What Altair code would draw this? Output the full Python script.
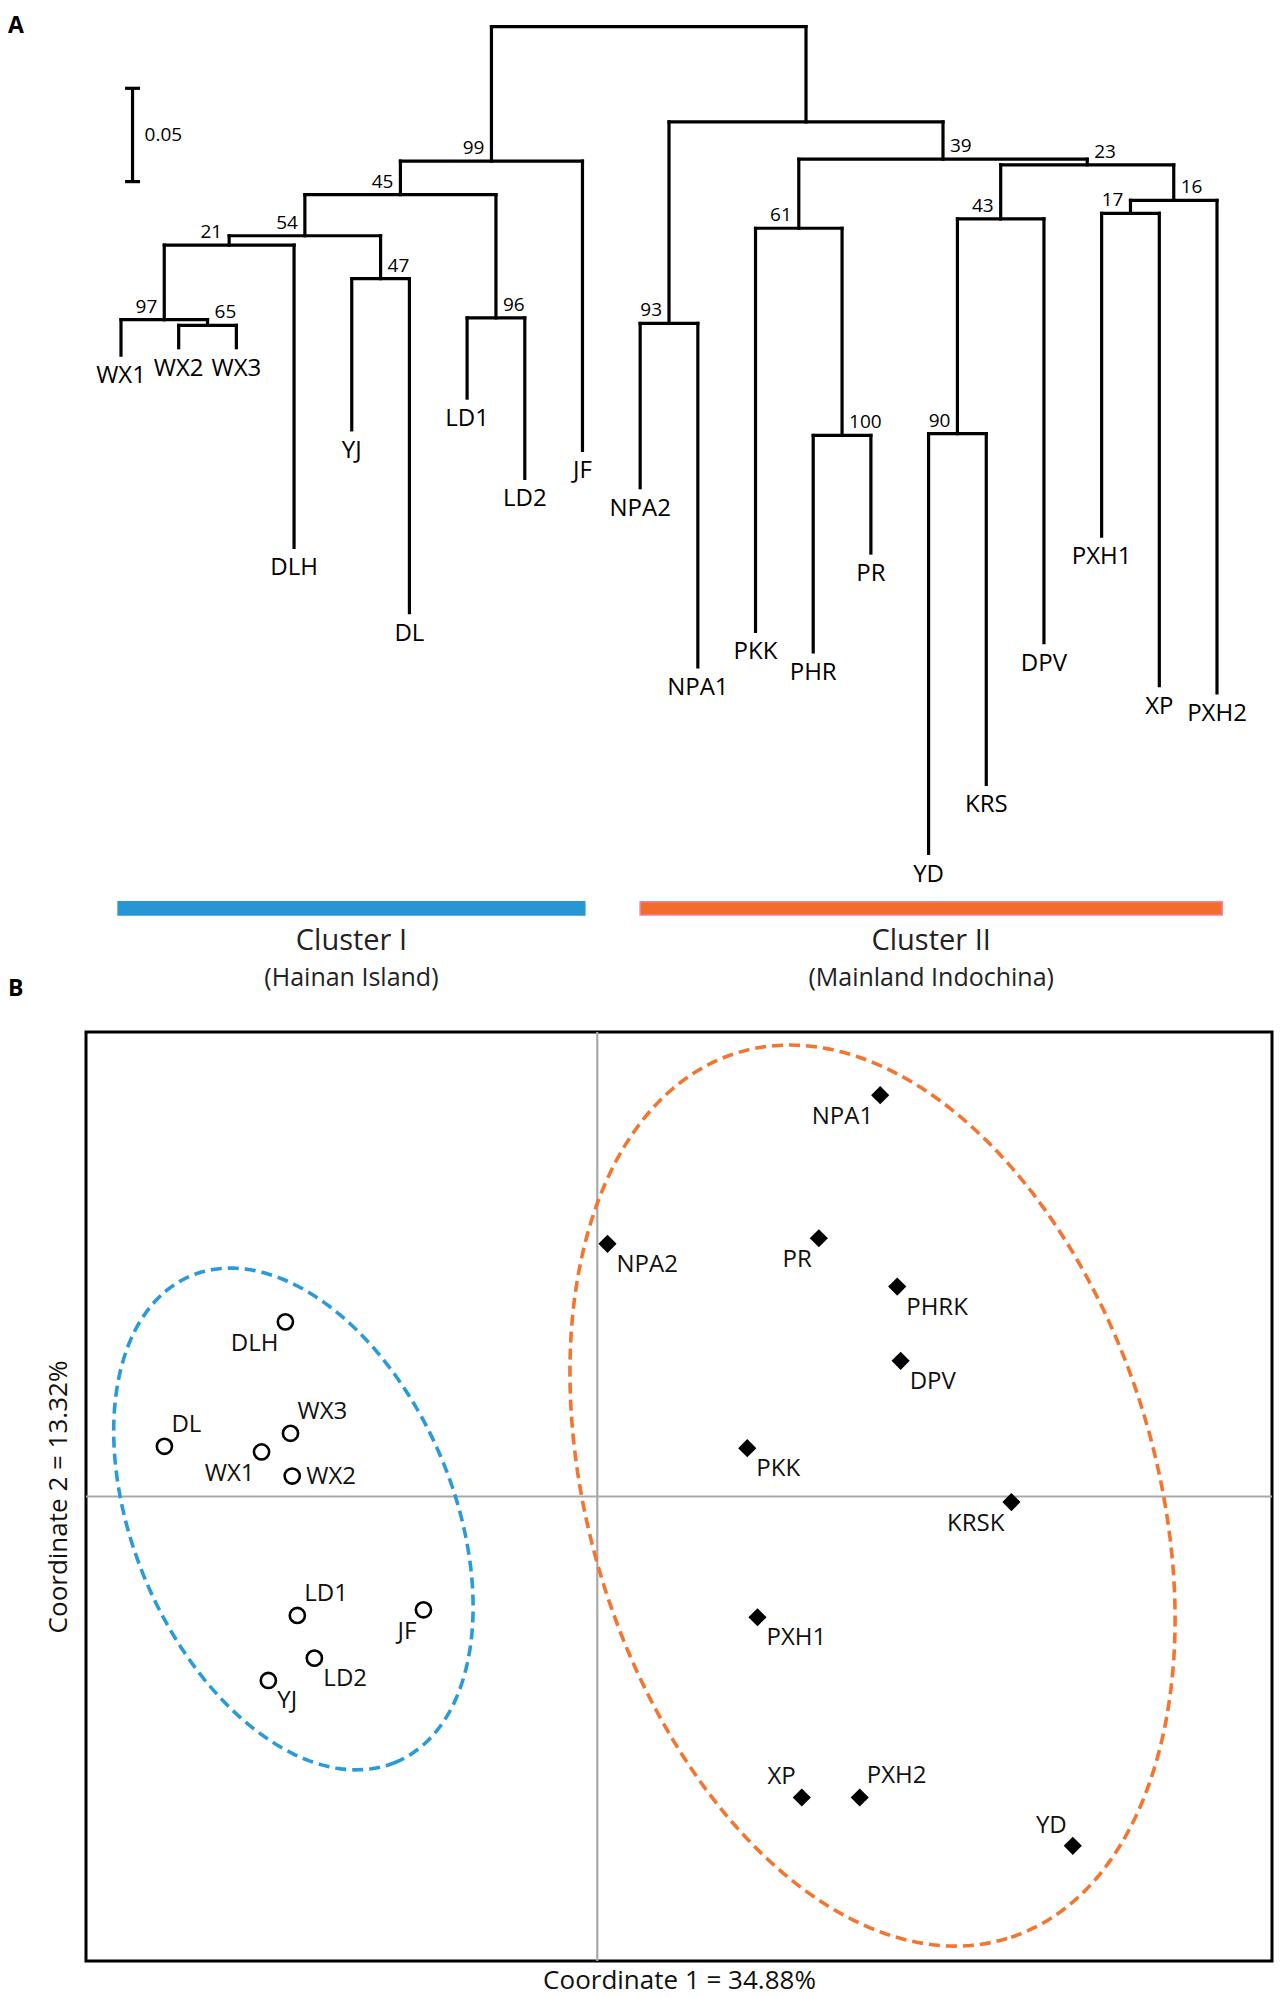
import numpy as np
import pandas as pd
import altair as alt

FONT = "Open Sans"

# ======================= Panel A : dendrogram =======================
leaf_names = ["WX1", "WX2", "WX3", "DLH", "YJ", "DL", "LD1", "LD2", "JF",
              "NPA2", "NPA1", "PKK", "PHR", "PR", "YD", "KRS", "DPV", "PXH1", "XP", "PXH2"]
# depth below the root (genetic distance units)
leaf_depth = [0.176, 0.172, 0.172, 0.279, 0.216, 0.314, 0.199, 0.242, 0.227,
              0.247, 0.343, 0.324, 0.335, 0.282, 0.443, 0.406, 0.330, 0.273, 0.353, 0.357]

node_names = ["n65", "n97", "n21", "n47", "n54", "n96", "n45", "n99",
              "n93", "n100", "n61", "n90", "n43", "n17", "n16", "n23", "n39", "nII", "root"]
node_left = ["WX2", "WX1", "n97", "YJ", "n21", "LD1", "n54", "n45",
             "NPA2", "PHR", "PKK", "YD", "n90", "PXH1", "n17", "n43", "n61", "n93", "n99"]
node_right = ["WX3", "n65", "DLH", "DL", "n47", "LD2", "n96", "JF",
              "NPA1", "PR", "n100", "KRS", "DPV", "XP", "PXH2", "n16", "n23", "n39", "nII"]
node_depth = [0.160, 0.157, 0.117, 0.135, 0.112, 0.156, 0.090, 0.072,
              0.159, 0.219, 0.108, 0.218, 0.103, 0.100, 0.093, 0.074, 0.071, 0.051, 0.0]
node_support = ["65", "97", "21", "47", "54", "96", "45", "99",
                "93", "100", "61", "90", "43", "17", "16", "23", "39", "", ""]
support_side = ["right", "left", "left", "right", "left", "right", "left", "left",
                "left", "right", "left", "left", "left", "left", "right", "right", "right", "", ""]

cluster_names = ["Cluster I", "Cluster II"]
cluster_regions = ["(Hainan Island)", "(Mainland Indochina)"]
cluster_first = [-0.05, 9.0]      # in leaf-order units
cluster_last = [8.04, 19.09]
cluster_fill = ["#2796d3", "#f26d2b"]
cluster_edge = ["#2796d3", "#f27fa4"]

scale_bar_value = 0.05

# ======================= Panel B : PCoA =======================
hainan_names = ["DLH", "DL", "WX1", "WX3", "WX2", "LD1", "JF", "LD2", "YJ"]
hainan_c1 = [-0.183, -0.254, -0.197, -0.180, -0.179, -0.176, -0.102, -0.166, -0.193]
hainan_c2 = [0.094, 0.027, 0.024, 0.034, 0.011, -0.064, -0.061, -0.087, -0.099]

indo_names = ["NPA2", "NPA1", "PR", "PHRK", "DPV", "PKK", "KRSK", "PXH1", "XP", "PXH2", "YD"]
indo_c1 = [0.006, 0.166, 0.130, 0.176, 0.178, 0.088, 0.243, 0.094, 0.120, 0.154, 0.279]
indo_c2 = [0.136, 0.216, 0.139, 0.113, 0.073, 0.026, -0.003, -0.065, -0.162, -0.162, -0.188]

# label placement relative to the marker
label_place = {"DLH": "LL", "DL": "UR", "WX1": "LL", "WX3": "UR", "WX2": "R",
               "LD1": "UR", "JF": "LL", "LD2": "LR", "YJ": "LR",
               "NPA2": "LR", "NPA1": "LL", "PR": "LL", "PHRK": "LR", "DPV": "LR",
               "PKK": "LR", "KRSK": "LL", "PXH1": "LR", "XP": "UL", "PXH2": "UR", "YD": "UL"}

# group ellipses: centre and two conjugate semi-axis vectors (data units)
ell_center = {"I": (-0.1783, -0.0121), "II": (0.1615, 0.0005)}
ell_u = {"I": (0.0603, -0.1308), "II": (0.0790, -0.2384)}
ell_v = {"I": (-0.0865, -0.0335), "II": (-0.1590, -0.0443)}
ell_color = {"I": "#2a9ad9", "II": "#f37530"}

# ======================= derived tables =======================
pos = {n: float(i) for i, n in enumerate(leaf_names)}
dep = dict(zip(leaf_names, leaf_depth))
for n, l, r, d in zip(node_names, node_left, node_right, node_depth):
    pos[n] = (pos[l] + pos[r]) / 2.0
    dep[n] = d

seg_rows = []
for n, l, r in zip(node_names, node_left, node_right):
    seg_rows.append(dict(x=pos[l], x2=pos[r], y=dep[n], y2=dep[n]))
    for c in (l, r):
        seg_rows.append(dict(x=pos[c], x2=pos[c], y=dep[n], y2=dep[c]))
seg_df = pd.DataFrame(seg_rows)

leaf_df = pd.DataFrame({"name": leaf_names, "x": [pos[n] for n in leaf_names], "d": leaf_depth})
sup_df = pd.DataFrame({"label": node_support, "side": support_side,
                       "x": [pos[n] for n in node_names], "d": node_depth})
sup_df = sup_df[sup_df["label"] != ""]

bar_top, bar_bottom = 0.4688, 0.4760
clu_df = pd.DataFrame({"name": cluster_names, "region": cluster_regions,
                       "first": cluster_first, "last": cluster_last,
                       "top": [bar_top] * 2, "bottom": [bar_bottom] * 2})
clu_df["mid"] = (clu_df["first"] + clu_df["last"]) / 2
clu_df["d_title"] = 0.4898
clu_df["d_sub"] = 0.5097

sb_x, sb_top = 0.2, 0.033
sb_df = pd.DataFrame({"x": [sb_x, sb_x - 0.13, sb_x - 0.13],
                      "x2": [sb_x, sb_x + 0.13, sb_x + 0.13],
                      "y": [sb_top, sb_top, sb_top + scale_bar_value],
                      "y2": [sb_top + scale_bar_value, sb_top, sb_top + scale_bar_value]})
sb_txt = pd.DataFrame({"x": [sb_x], "d": [sb_top + scale_bar_value / 2], "t": [f"{scale_bar_value:.2f}"]})

pts_h = pd.DataFrame({"name": hainan_names, "c1": hainan_c1, "c2": hainan_c2})
pts_i = pd.DataFrame({"name": indo_names, "c1": indo_c1, "c2": indo_c2})
pts_all = pd.concat([pts_h, pts_i], ignore_index=True)
pts_all["place"] = pts_all["name"].map(label_place)

t = np.linspace(0, 2 * np.pi, 241)
ell_dfs = {}
for k in ell_center:
    cx, cy = ell_center[k]
    ux, uy = ell_u[k]
    vx, vy = ell_v[k]
    ell_dfs[k] = pd.DataFrame({"c1": cx + ux * np.cos(t) + vx * np.sin(t),
                               "c2": cy + uy * np.cos(t) + vy * np.sin(t),
                               "i": np.arange(len(t))})

# ======================= scales =======================
PLOT_W, PLOT_H = 1186, 929
XD = alt.Scale(domain=[0, 19], range=[35, 1131], nice=False, zero=False)
YD = alt.Scale(domain=[0, 0.5], range=[-1005.3, -72.1], nice=False, zero=False)
XS = alt.Scale(domain=[-0.30, 0.3959], nice=False, zero=False)
YS = alt.Scale(domain=[-0.25, 0.25], nice=False, zero=False)


def xd(f):
    return alt.X(f, type="quantitative", scale=XD, axis=None)


def yd(f):
    return alt.Y(f, type="quantitative", scale=YD, axis=None)


def xs(f, axis=None):
    return alt.X(f, type="quantitative", scale=XS, axis=axis)


def ys(f, axis=None):
    return alt.Y(f, type="quantitative", scale=YS, axis=axis)


layers = []

# ---- panel A ----
layers.append(alt.Chart(seg_df).mark_rule(color="black", strokeWidth=3.2, strokeCap="square").encode(
    x=xd("x"), x2="x2", y=yd("y"), y2="y2"))
layers.append(alt.Chart(leaf_df).mark_text(font=FONT, fontSize=24, baseline="top", dy=9, color="black").encode(
    x=xd("x"), y=yd("d"), text="name:N"))
layers.append(alt.Chart(sup_df[sup_df["side"] == "left"]).mark_text(
    font=FONT, fontSize=19, align="right", baseline="alphabetic", dx=-7, dy=-7, color="black").encode(
    x=xd("x"), y=yd("d"), text="label:N"))
layers.append(alt.Chart(sup_df[sup_df["side"] == "right"]).mark_text(
    font=FONT, fontSize=19, align="left", baseline="alphabetic", dx=7, dy=-7, color="black").encode(
    x=xd("x"), y=yd("d"), text="label:N"))
layers.append(alt.Chart(sb_df).mark_rule(color="black", strokeWidth=3.2).encode(
    x=xd("x"), x2="x2", y=yd("y"), y2="y2"))
layers.append(alt.Chart(sb_txt).mark_text(font=FONT, fontSize=19, align="left", baseline="middle", dx=12,
                                          color="black").encode(x=xd("x"), y=yd("d"), text="t:N"))
layers.append(alt.Chart(clu_df).mark_rect(strokeWidth=1.5).encode(
    x=xd("first"), x2="last", y=yd("top"), y2="bottom",
    fill=alt.Fill("name:N", scale=alt.Scale(domain=cluster_names, range=cluster_fill), legend=None),
    stroke=alt.Stroke("name:N", scale=alt.Scale(domain=cluster_names, range=cluster_edge), legend=None)))
layers.append(alt.Chart(clu_df).mark_text(font=FONT, fontSize=29, baseline="middle", color="#222222").encode(
    x=xd("mid"), y=yd("d_title"), text="name:N"))
layers.append(alt.Chart(clu_df).mark_text(font=FONT, fontSize=25, baseline="middle", color="#222222").encode(
    x=xd("mid"), y=yd("d_sub"), text="region:N"))
layers.append(alt.Chart(pd.DataFrame({"x": [-1.96], "d": [-0.0065], "t": ["A"]})).mark_text(
    font=FONT, fontSize=23, fontWeight="bold", align="left", baseline="top", color="black").encode(
    x=xd("x"), y=yd("d"), text="t:N"))

# ---- panel B ----
zero = pd.DataFrame({"c1": [0.0], "c2": [0.0]})
layers.append(alt.Chart(zero).mark_rule(color="#a9a9a9", strokeWidth=2.2).encode(x=xs("c1")))
layers.append(alt.Chart(zero).mark_rule(color="#a9a9a9", strokeWidth=2.2).encode(y=ys("c2")))
for k in ell_dfs:
    layers.append(alt.Chart(ell_dfs[k]).mark_line(color=ell_color[k], strokeWidth=3.6,
                                                  strokeDash=[11, 6]).encode(
        x=xs("c1"), y=ys("c2"), order="i:Q"))

x_axis = alt.Axis(title="Coordinate 1 = 34.88%", orient="bottom", labels=False, ticks=False, domain=False,
                  grid=False, titleFont=FONT, titleFontSize=26, titleFontWeight="normal",
                  titleColor="#111111", titlePadding=6)
y_axis = alt.Axis(title="Coordinate 2 = 13.32%", orient="left", labels=False, ticks=False, domain=False,
                  grid=False, titleFont=FONT, titleFontSize=26, titleFontWeight="normal",
                  titleColor="#111111", titlePadding=15)

layers.append(alt.Chart(pts_h).mark_point(shape="circle", filled=False, color="black", strokeWidth=2.6,
                                          size=230, opacity=1).encode(
    x=xs("c1", x_axis), y=ys("c2", y_axis)))
layers.append(alt.Chart(pts_i).mark_point(shape="diamond", filled=True, color="black", size=330,
                                          opacity=1).encode(x=xs("c1"), y=ys("c2")))

place_style = {"LR": dict(align="left", dx=9, dy=21),
               "LL": dict(align="right", dx=-7, dy=22),
               "UR": dict(align="left", dx=7, dy=-21),
               "UL": dict(align="right", dx=-6, dy=-20),
               "R": dict(align="left", dx=14, dy=1)}
for p, st in place_style.items():
    sub = pts_all[pts_all["place"] == p]
    layers.append(alt.Chart(sub).mark_text(font=FONT, fontSize=24, baseline="middle", color="#111111",
                                           **st).encode(x=xs("c1"), y=ys("c2"), text="name:N"))

layers.append(alt.Chart(pd.DataFrame({"c1": [-0.3457], "c2": [0.2791], "t": ["B"]})).mark_text(
    font=FONT, fontSize=23, fontWeight="bold", align="left", baseline="top", color="black").encode(
    x=xs("c1"), y=ys("c2"), text="t:N"))

chart = (alt.layer(*layers)
         .resolve_scale(x="independent", y="independent")
         .properties(width=PLOT_W, height=PLOT_H,
                     autosize=alt.AutoSizeParams(type="none"),
                     padding={"left": 78, "top": 1024, "right": 2, "bottom": 36})
         .configure(font=FONT)
         .configure_view(stroke="black", strokeWidth=3))

chart.save("out.html", embed_options={"renderer": "svg", "actions": False})
